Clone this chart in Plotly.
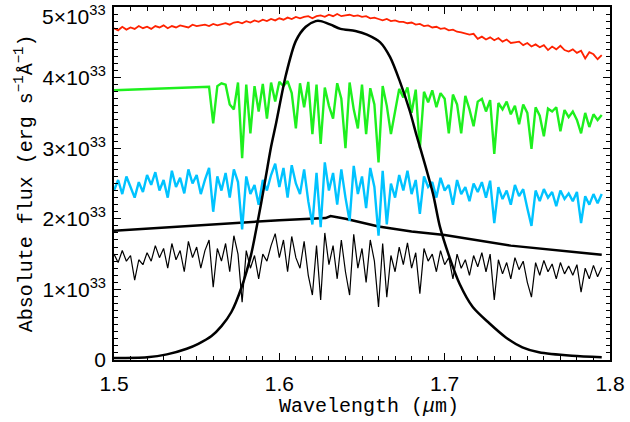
import numpy as np
import plotly.graph_objects as go

# flux values are in units of 1e33 erg/s/A
FLUX_UNIT = 1e33

wavelength = [
    1.5000, 1.5025, 1.5050, 1.5075, 1.5100, 1.5125, 1.5150, 1.5175, 1.5200, 1.5225,
    1.5250, 1.5275, 1.5300, 1.5325, 1.5350, 1.5375, 1.5400, 1.5425, 1.5450, 1.5475,
    1.5500, 1.5525, 1.5550, 1.5575, 1.5600, 1.5625, 1.5650, 1.5675, 1.5700, 1.5725,
    1.5750, 1.5775, 1.5800, 1.5825, 1.5850, 1.5875, 1.5900, 1.5925, 1.5950, 1.5975,
    1.6000, 1.6025, 1.6050, 1.6075, 1.6100, 1.6125, 1.6150, 1.6175, 1.6200, 1.6225,
    1.6250, 1.6275, 1.6300, 1.6325, 1.6350, 1.6375, 1.6400, 1.6425, 1.6450, 1.6475,
    1.6500, 1.6525, 1.6550, 1.6575, 1.6600, 1.6625, 1.6650, 1.6675, 1.6700, 1.6725,
    1.6750, 1.6775, 1.6800, 1.6825, 1.6850, 1.6875, 1.6900, 1.6925, 1.6950, 1.6975,
    1.7000, 1.7025, 1.7050, 1.7075, 1.7100, 1.7125, 1.7150, 1.7175, 1.7200, 1.7225,
    1.7250, 1.7275, 1.7300, 1.7325, 1.7350, 1.7375, 1.7400, 1.7425, 1.7450, 1.7475,
    1.7500, 1.7525, 1.7550, 1.7575, 1.7600, 1.7625, 1.7650, 1.7675, 1.7700, 1.7725,
    1.7750, 1.7775, 1.7800, 1.7825, 1.7850, 1.7875, 1.7900, 1.7925, 1.7950,
]

red_flux = [
    4.70, 4.67, 4.72, 4.68, 4.71, 4.69, 4.73, 4.70, 4.72, 4.69,
    4.73, 4.71, 4.74, 4.70, 4.73, 4.71, 4.74, 4.72, 4.71, 4.75,
    4.73, 4.74, 4.75, 4.73, 4.76, 4.74, 4.75, 4.77, 4.75, 4.78,
    4.79, 4.77, 4.80, 4.78, 4.81, 4.79, 4.82, 4.80, 4.83, 4.81,
    4.84, 4.82, 4.85, 4.83, 4.86, 4.84, 4.86, 4.87, 4.84, 4.87,
    4.88, 4.86, 4.89, 4.87, 4.90, 4.87, 4.88, 4.89, 4.87, 4.88,
    4.86, 4.87, 4.84, 4.85, 4.83, 4.81, 4.83, 4.80, 4.81, 4.79,
    4.79, 4.77, 4.78, 4.75, 4.76, 4.73, 4.74, 4.71, 4.72, 4.69,
    4.70, 4.67, 4.68, 4.65, 4.64, 4.62, 4.61, 4.62, 4.55, 4.58,
    4.54, 4.57, 4.53, 4.56, 4.51, 4.54, 4.49, 4.50, 4.51, 4.46,
    4.49, 4.44, 4.47, 4.43, 4.46, 4.39, 4.44, 4.40, 4.45, 4.39,
    4.37, 4.40, 4.35, 4.38, 4.27, 4.36, 4.33, 4.26, 4.32,
]

# green model: flat segment from 1.5 to 1.5575, then the spectrum
green_wavelength = [1.5000] + wavelength[23:]
green_flux = [
    3.82,
    3.87, 3.35, 3.88, 3.92, 3.90, 3.62, 3.55,
    3.93, 2.86, 3.90, 3.21, 3.88, 3.52, 3.91, 3.42, 3.93, 3.66,
    3.94, 3.88, 3.95, 3.78, 3.28, 3.92, 3.58, 3.94, 3.20, 3.90,
    3.06, 3.86, 3.60, 3.42, 3.92, 3.70, 3.00, 3.93, 3.55, 3.28,
    3.90, 3.20, 3.85, 3.62, 2.80, 3.88, 3.60, 3.20, 3.52, 3.84,
    3.72, 3.86, 3.50, 3.83, 3.00, 3.80, 3.65, 3.82, 3.58, 3.78,
    3.70, 3.21, 3.76, 3.62, 3.21, 3.74, 3.55, 3.31, 3.66, 3.70,
    3.52, 3.68, 2.92, 3.64, 3.55, 3.66, 3.48, 3.60, 3.34, 3.62,
    3.50, 2.99, 3.58, 3.46, 3.17, 3.56, 3.52, 3.58, 3.24, 3.54,
    3.44, 3.52, 3.40, 3.21, 3.50, 3.30, 3.48, 3.40, 3.47,
]

cyan_flux = [
    2.40, 2.55, 2.35, 2.60, 2.45, 2.30, 2.52, 2.38, 2.62, 2.48,
    2.66, 2.40, 2.55, 2.30, 2.68, 2.45, 2.58, 2.36, 2.70, 2.50,
    2.62, 2.35, 2.55, 2.72, 2.10, 2.60, 2.40, 2.65, 2.30, 2.70,
    2.52, 1.85, 2.60, 2.35, 2.48, 2.20, 2.55, 2.40, 2.62, 2.78,
    2.45, 2.72, 2.30, 2.76, 2.50, 2.35, 2.70, 2.25, 1.92, 2.65,
    1.88, 2.80, 2.40, 2.65, 2.20, 2.70, 2.30, 1.97, 2.75, 2.35,
    2.60, 2.15, 2.72, 2.45, 1.76, 2.68, 1.92, 2.50, 2.30, 2.62,
    2.40, 2.68, 2.35, 2.55, 2.07, 2.60, 2.45, 2.52, 2.30, 2.58,
    2.40, 2.48, 2.20, 2.55, 2.35, 2.45, 2.25, 2.50, 2.38, 2.52,
    2.30, 2.54, 1.94, 2.45, 2.28, 2.40, 2.20, 2.48, 2.32, 2.42,
    2.15, 1.90, 2.40, 2.25, 2.42, 2.30, 2.38, 2.18, 2.40, 2.28,
    2.36, 2.25, 2.38, 1.94, 2.32, 2.20, 2.35, 2.22, 2.35,
]

black_flux = [
    1.50, 1.38, 1.55, 1.40, 1.48, 1.13, 1.42, 1.35, 1.52, 1.40,
    1.62, 1.45, 1.58, 1.30, 1.65, 1.42, 1.55, 1.25, 1.68, 1.45,
    1.60, 1.30, 1.55, 1.70, 1.03, 1.58, 1.40, 1.65, 1.25, 1.76,
    1.50, 0.82, 1.55, 1.30, 1.48, 1.15, 1.50, 1.40, 1.62, 1.79,
    1.45, 1.70, 1.25, 1.75, 1.45, 1.30, 1.68, 1.20, 0.92, 1.62,
    0.85, 1.80, 1.35, 1.62, 1.15, 1.70, 1.25, 0.92, 1.78, 1.30,
    1.58, 1.10, 1.70, 1.40, 0.75, 1.65, 0.89, 1.48, 1.25, 1.60,
    1.35, 1.66, 1.30, 1.52, 0.94, 1.58, 1.40, 1.50, 1.25, 1.55,
    1.35, 1.45, 1.15, 1.50, 1.30, 1.42, 1.20, 1.48, 1.32, 1.52,
    1.25, 1.50, 0.85, 1.42, 1.22, 1.38, 1.15, 1.45, 1.28, 1.40,
    1.10, 0.89, 1.38, 1.20, 1.41, 1.25, 1.36, 1.15, 1.38, 1.22,
    1.33, 1.20, 1.35, 0.96, 1.30, 1.15, 1.34, 1.18, 1.31,
]

# smooth continuum (thick black)
cont_wavelength = [1.500, 1.560, 1.600, 1.628, 1.631, 1.640, 1.660, 1.680, 1.700, 1.740, 1.795]
cont_flux = [1.83, 1.92, 1.98, 2.01, 2.04, 2.00, 1.89, 1.82, 1.77, 1.62, 1.49]

# filter transmission curve, scaled to the flux axis
filter_wavelength = [
    1.500, 1.520, 1.532, 1.544, 1.551, 1.559, 1.565, 1.571, 1.577, 1.583,
    1.586, 1.589, 1.592, 1.595, 1.598, 1.604, 1.610, 1.616, 1.622, 1.625,
    1.631, 1.637, 1.646, 1.653, 1.661, 1.667, 1.673, 1.679, 1.683, 1.687,
    1.693, 1.697, 1.703, 1.709, 1.717, 1.727, 1.737, 1.747, 1.757, 1.777, 1.795,
]
filter_flux = [
    0.03, 0.04, 0.08, 0.16, 0.23, 0.34, 0.48, 0.68, 1.02, 1.50,
    1.85, 2.22, 2.62, 3.02, 3.35, 4.04, 4.52, 4.72, 4.80, 4.80,
    4.75, 4.69, 4.66, 4.61, 4.50, 4.29, 3.94, 3.52, 3.18, 2.86,
    2.35, 1.90, 1.45, 1.08, 0.75, 0.52, 0.32, 0.18, 0.11, 0.06, 0.04,
]

y_ticks = [0, 1, 2, 3, 4, 5]
y_ticktext = ["0", "1×10<sup>33</sup>", "2×10<sup>33</sup>", "3×10<sup>33</sup>",
              "4×10<sup>33</sup>", ""]
top_label = "5×10<sup>33</sup>"
x_ticks = [1.5, 1.6, 1.7, 1.8]


def scaled(vals):
    return np.array(vals) * FLUX_UNIT


fig = go.Figure()

fig.add_trace(go.Scatter(x=cont_wavelength, y=scaled(cont_flux), mode='lines',
                         line=dict(color='black', width=2.5), showlegend=False))
fig.add_trace(go.Scatter(x=wavelength, y=scaled(cyan_flux), mode='lines',
                         line=dict(color='#00c3ff', width=2.4), showlegend=False))
fig.add_trace(go.Scatter(x=wavelength, y=scaled(black_flux), mode='lines',
                         line=dict(color='black', width=1.2), showlegend=False))
fig.add_trace(go.Scatter(x=wavelength, y=scaled(red_flux), mode='lines',
                         line=dict(color='#ff2200', width=1.8), showlegend=False))
fig.add_trace(go.Scatter(x=green_wavelength, y=scaled(green_flux), mode='lines',
                         line=dict(color='#1ef01e', width=2.4), showlegend=False))
fig.add_trace(go.Scatter(x=filter_wavelength, y=scaled(filter_flux), mode='lines',
                         line=dict(color='black', width=2.5, shape='spline', smoothing=0.8),
                         showlegend=False))

tick_font = dict(family='Liberation Sans, Arial, sans-serif', size=21, color='black')
title_font = dict(family='Liberation Mono, Courier New, monospace', size=20, color='black')

axis_common = dict(
    showline=True, linecolor='black', linewidth=1.5, mirror='allticks',
    ticks='inside', ticklen=7, tickwidth=1.2, tickcolor='black',
    showgrid=False, zeroline=False, ticklabeloverflow='allow',
    tickfont=tick_font,
)

fig.update_layout(
    width=630, height=422,
    margin=dict(l=114, r=15, t=5, b=62),
    paper_bgcolor='white', plot_bgcolor='white',
    xaxis=dict(range=[1.5, 1.8], tickvals=x_ticks, ticktext=['1.5', '1.6', '1.7', '1.8'],
               minor=dict(dtick=0.01, ticks='inside', ticklen=4, tickcolor='black'),
               ticklabelstandoff=4, **axis_common),
    yaxis=dict(range=[0, 5 * FLUX_UNIT], tickvals=[v * FLUX_UNIT for v in y_ticks],
               ticktext=y_ticktext,
               minor=dict(dtick=0.1 * FLUX_UNIT, ticks='inside', ticklen=4, tickcolor='black'),
               ticklabelstandoff=2, **axis_common),
    annotations=[
        dict(text=top_label, xref='paper', yref='paper', x=-0.012, y=0.978,
             showarrow=False, xanchor='right', yanchor='middle', font=tick_font),
        dict(text='Wavelength (<i>μ</i>m)', xref='paper', yref='paper', x=0.515, y=-0.132,
             showarrow=False, xanchor='center', yanchor='middle', font=title_font),
        dict(text='Absolute flux (erg s<sup>−1</sup>Å<sup>−1</sup>)', xref='paper', yref='paper',
             x=-0.182, y=0.5, textangle=-90, showarrow=False, xanchor='center', yanchor='middle',
             font=title_font),
    ],
)

# the page body has a default margin that would push the figure out of the window
fig.write_html("out.html", config={'displayModeBar': False},
               post_script="document.body.style.margin='0';")
